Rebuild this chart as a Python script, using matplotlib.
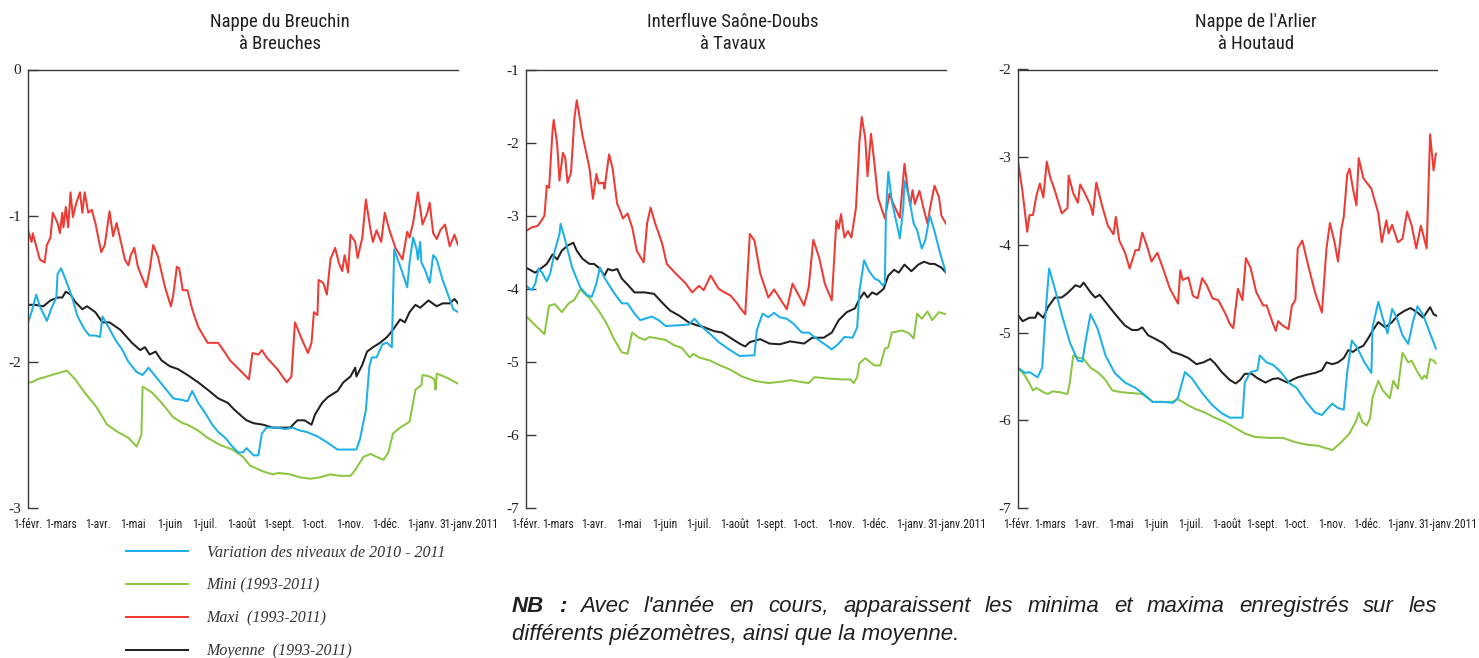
import matplotlib
matplotlib.use('Agg')
import matplotlib.pyplot as plt
from matplotlib import font_manager as fm
from matplotlib.font_manager import FontProperties

plt.rcParams['axes.unicode_minus'] = False

# x axis: day number from 1 Feb 2010
month_labels = ['1-févr.', '1-mars', '1-avr.', '1-mai', '1-juin', '1-juil.', '1-août',
                '1-sept.', '1-oct.', '1-nov.', '1-déc.', '1-janv.']
month_days = [0, 28, 59, 89, 120, 150, 181, 212, 242, 273, 303, 334]
end_label = '31-janv.2011'
end_day = 364

series_labels = ['Variation des niveaux de 2010 - 2011', 'Mini (1993-2011)',
                 'Maxi  (1993-2011)', 'Moyenne  (1993-2011)']
colors = {'var': '#1BB0E8', 'mini': '#8CC540', 'maxi': '#EE3A33', 'moy': '#231F20'}

# --- Nappe du Breuchin a Breuches ---
br_maxi_d = [0, 3, 4, 10, 14, 16, 19, 21, 25, 27, 29, 30, 32, 34, 36, 38, 41, 44, 46, 48,
             51, 54, 57, 62, 65, 69, 72, 75, 82, 85, 87, 90, 93, 100, 103, 106, 110, 116, 121, 123,
             126, 128, 131, 135, 139, 144, 152, 161, 167, 171, 181, 187, 190, 195, 198, 202, 211, 219, 223, 226,
             232, 237, 240, 242, 245, 246, 250, 253, 256, 260, 263, 266, 268, 271, 273, 277, 279, 283, 286, 290,
             292, 295, 299, 302, 306, 311, 317, 321, 323, 326, 330, 334, 338, 340, 343, 346, 349, 353, 357, 361, 364]
br_maxi_v = [-1.10, -1.18, -1.12, -1.30, -1.32, -1.20, -1.15, -0.98, -1.05, -1.12,
             -0.98, -1.08, -0.94, -1.08, -0.84, -1.01, -0.91, -0.84, -0.98, -0.84,
             -0.98, -0.96, -1.05, -1.25, -1.20, -0.97, -1.14, -1.05, -1.30, -1.34,
             -1.27, -1.22, -1.35, -1.49, -1.37, -1.20, -1.28, -1.49, -1.62, -1.54,
             -1.35, -1.36, -1.51, -1.51, -1.64, -1.76, -1.87, -1.87, -1.94, -1.99,
             -2.07, -2.12, -1.94, -1.95, -1.92, -1.97, -2.05, -2.14, -2.10, -1.73,
             -1.85, -1.94, -1.87, -1.66, -1.68, -1.44, -1.46, -1.54, -1.30, -1.22,
             -1.32, -1.38, -1.27, -1.39, -1.13, -1.18, -1.29, -1.15, -0.89, -1.10,
             -1.18, -1.10, -1.18, -0.98, -1.10, -1.22, -1.30, -1.11, -1.15, -1.05,
             -0.84, -1.06, -0.98, -0.91, -1.12, -1.16, -1.10, -1.06, -1.21, -1.13, -1.20]
br_var_d = [0, 3, 7, 10, 16, 20, 24, 25, 28, 31, 37, 42, 48, 52, 57, 61, 63, 68, 74, 80,
            85, 92, 97, 102, 108, 116, 123, 130, 135, 139, 144, 150, 156, 161, 167, 173, 178, 182, 185, 191,
            195, 198, 202, 211, 218, 224, 230, 236, 245, 253, 262, 278, 281, 286, 289, 291, 295, 300, 304, 308,
            310, 313, 317, 321, 323, 326, 329, 330, 332, 333, 336, 340, 343, 346, 351, 356, 360, 364]
br_var_v = [-1.73, -1.66, -1.54, -1.62, -1.72, -1.63, -1.56, -1.40, -1.36, -1.42,
            -1.55, -1.69, -1.78, -1.82, -1.82, -1.83, -1.69, -1.76, -1.85, -1.92,
            -2.00, -2.07, -2.09, -2.04, -2.10, -2.18, -2.25, -2.26, -2.27, -2.20,
            -2.28, -2.35, -2.43, -2.48, -2.52, -2.58, -2.62, -2.62, -2.59, -2.64,
            -2.64, -2.49, -2.45, -2.45, -2.46, -2.45, -2.47, -2.48, -2.51, -2.55,
            -2.60, -2.60, -2.53, -2.33, -2.03, -1.97, -1.97, -1.88, -1.87, -1.90,
            -1.23, -1.30, -1.39, -1.49, -1.32, -1.15, -1.23, -1.30, -1.18, -1.32,
            -1.37, -1.46, -1.27, -1.30, -1.44, -1.55, -1.64, -1.66]
br_moy_d = [0, 6, 13, 19, 25, 29, 32, 36, 40, 46, 50, 57, 63, 69, 78, 88, 95, 99, 103, 108,
            113, 120, 127, 135, 144, 152, 161, 169, 175, 182, 185, 191, 199, 207, 216, 222, 228, 234, 240, 243,
            249, 254, 262, 267, 273, 277, 278, 283, 287, 292, 298, 304, 309, 315, 319, 323, 328, 332, 339, 346,
            351, 357, 361, 364]
br_moy_v = [-1.61, -1.61, -1.62, -1.58, -1.56, -1.56, -1.52, -1.54, -1.59, -1.64,
            -1.62, -1.66, -1.73, -1.73, -1.78, -1.87, -1.92, -1.90, -1.95, -1.93,
            -1.99, -2.03, -2.05, -2.09, -2.14, -2.19, -2.25, -2.28, -2.33, -2.38,
            -2.40, -2.42, -2.43, -2.45, -2.45, -2.45, -2.40, -2.40, -2.43, -2.36,
            -2.28, -2.24, -2.20, -2.14, -2.10, -2.04, -2.10, -2.02, -1.93, -1.90,
            -1.87, -1.83, -1.78, -1.71, -1.73, -1.66, -1.61, -1.63, -1.58, -1.62,
            -1.60, -1.60, -1.57, -1.60]
br_mini_d = [0, 3, 8, 20, 33, 40, 48, 58, 67, 76, 85, 92, 96, 97, 105, 113, 123, 131, 135, 144,
             152, 163, 173, 182, 188, 199, 207, 212, 222, 230, 239, 247, 256, 264, 273, 277, 284, 290, 295, 301,
             305, 309, 315, 323, 328, 333, 334, 340, 344, 345, 346, 355, 364]
br_mini_v = [-2.14, -2.14, -2.12, -2.09, -2.06, -2.12, -2.21, -2.31, -2.43, -2.48,
             -2.52, -2.58, -2.50, -2.17, -2.21, -2.28, -2.38, -2.42, -2.43, -2.47,
             -2.52, -2.57, -2.60, -2.65, -2.71, -2.75, -2.77, -2.76, -2.77, -2.79,
             -2.80, -2.79, -2.77, -2.78, -2.78, -2.74, -2.65, -2.63, -2.65, -2.67,
             -2.62, -2.49, -2.45, -2.41, -2.19, -2.16, -2.09, -2.10, -2.12, -2.19,
             -2.08, -2.11, -2.15]

# --- Interfluve Saone-Doubs a Tavaux ---
tv_maxi_d = [1, 5, 10, 12, 16, 18, 20, 23, 24, 27, 29, 32, 34, 36, 39, 42, 44, 46, 49, 51,
             55, 58, 61, 63, 67, 68, 72, 75, 79, 81, 84, 88, 92, 96, 102, 105, 108, 112, 118, 122,
             129, 138, 144, 150, 154, 160, 167, 172, 177, 183, 185, 190, 194, 198, 203, 210, 215, 220, 226, 231,
             235, 241, 245, 249, 254, 259, 265, 269, 271, 273, 276, 279, 282, 286, 289, 291, 294, 296, 299, 302,
             305, 311, 315, 319, 324, 328, 331, 333, 335, 337, 341, 345, 348, 350, 354, 358, 360, 364]
tv_maxi_v = [-3.20, -3.16, -3.14, -3.10, -3.00, -2.59, -2.62, -1.84, -1.69, -2.02,
             -2.52, -2.14, -2.21, -2.55, -2.41, -1.66, -1.42, -1.61, -1.91, -2.05,
             -2.35, -2.77, -2.43, -2.56, -2.55, -2.63, -2.16, -2.35, -2.84, -2.91,
             -3.04, -2.97, -3.16, -3.48, -3.64, -3.10, -2.89, -3.11, -3.38, -3.66,
             -3.78, -3.92, -4.05, -3.96, -4.02, -3.82, -4.00, -4.05, -4.09, -4.20,
             -4.25, -4.35, -3.25, -3.34, -3.79, -4.12, -4.01, -4.13, -4.28, -3.93,
             -4.05, -4.23, -3.98, -3.33, -3.57, -3.93, -4.16, -3.07, -3.18, -2.98,
             -3.30, -3.21, -3.30, -2.89, -1.98, -1.65, -1.94, -2.46, -1.88, -2.29,
             -2.75, -3.04, -2.70, -2.86, -3.03, -2.29, -2.66, -2.86, -2.65, -2.84,
             -2.66, -2.93, -3.11, -2.91, -2.59, -2.75, -3.00, -3.11]
tv_var_d = [1, 5, 8, 11, 14, 18, 21, 25, 29, 30, 34, 40, 47, 53, 57, 61, 64, 68, 76, 83,
            88, 94, 99, 103, 109, 115, 121, 132, 141, 146, 151, 159, 167, 176, 183, 185, 198, 200, 205, 210,
            215, 220, 226, 232, 239, 245, 250, 258, 265, 271, 276, 283, 287, 289, 293, 297, 302, 306, 309, 311,
            312, 314, 317, 322, 324, 327, 328, 332, 336, 339, 343, 346, 350, 354, 359, 364]
tv_var_v = [-3.97, -4.02, -3.93, -3.72, -3.78, -3.90, -3.79, -3.48, -3.25, -3.11,
            -3.34, -3.71, -3.98, -4.09, -4.11, -3.93, -3.71, -3.85, -4.05, -4.20,
            -4.20, -4.34, -4.43, -4.41, -4.38, -4.43, -4.51, -4.50, -4.49, -4.41,
            -4.50, -4.61, -4.73, -4.83, -4.90, -4.92, -4.91, -4.57, -4.34, -4.39,
            -4.33, -4.39, -4.41, -4.48, -4.60, -4.60, -4.66, -4.75, -4.83, -4.75,
            -4.66, -4.67, -4.53, -4.03, -3.61, -3.75, -3.86, -3.89, -3.95, -3.93,
            -2.93, -2.40, -2.80, -3.16, -3.31, -2.89, -2.52, -2.75, -3.11, -3.20,
            -3.45, -3.34, -3.00, -3.21, -3.52, -3.78]
tv_moy_d = [1, 8, 14, 18, 23, 27, 31, 36, 41, 44, 49, 55, 59, 63, 68, 71, 75, 79, 83, 89,
            94, 103, 111, 118, 125, 133, 141, 148, 155, 163, 170, 177, 183, 185, 190, 194, 203, 211, 220, 229,
            241, 248, 258, 265, 271, 278, 285, 289, 293, 296, 300, 304, 310, 314, 319, 323, 328, 334, 340, 345,
            350, 354, 360, 364]
tv_moy_v = [-3.72, -3.78, -3.71, -3.66, -3.53, -3.60, -3.48, -3.41, -3.37, -3.48,
            -3.59, -3.66, -3.66, -3.71, -3.82, -3.73, -3.75, -3.73, -3.86, -3.96,
            -4.05, -4.05, -4.07, -4.19, -4.30, -4.37, -4.46, -4.50, -4.53, -4.58,
            -4.60, -4.67, -4.73, -4.75, -4.79, -4.73, -4.69, -4.75, -4.76, -4.72,
            -4.75, -4.67, -4.67, -4.60, -4.43, -4.32, -4.27, -4.14, -4.05, -4.12,
            -4.05, -4.08, -4.00, -3.82, -3.74, -3.78, -3.67, -3.76, -3.67, -3.63,
            -3.66, -3.66, -3.71, -3.78]
tv_mini_d = [1, 8, 16, 20, 25, 31, 37, 42, 47, 55, 63, 70, 76, 83, 88, 92, 98, 103, 107, 114,
             121, 128, 135, 142, 145, 150, 159, 167, 176, 183, 187, 198, 210, 222, 229, 236, 245, 250, 263, 274,
             281, 284, 287, 289, 294, 302, 307, 311, 314, 317, 326, 332, 336, 339, 343, 348, 352, 358, 364]
tv_mini_v = [-4.39, -4.50, -4.62, -4.23, -4.21, -4.32, -4.20, -4.15, -4.01, -4.13,
             -4.30, -4.48, -4.68, -4.87, -4.89, -4.60, -4.67, -4.70, -4.66, -4.68,
             -4.70, -4.77, -4.81, -4.94, -4.89, -4.94, -4.98, -5.04, -5.10, -5.16,
             -5.20, -5.26, -5.29, -5.27, -5.25, -5.27, -5.29, -5.21, -5.23, -5.24,
             -5.24, -5.29, -5.21, -5.02, -4.95, -5.05, -5.05, -4.82, -4.80, -4.60,
             -4.57, -4.61, -4.68, -4.34, -4.41, -4.31, -4.43, -4.32, -4.35]

# --- Nappe de l'Arlier a Houtaud ---
ht_maxi_d = [0, 4, 8, 10, 13, 16, 19, 22, 25, 28, 32, 38, 43, 44, 48, 52, 54, 58, 63, 65,
             68, 73, 78, 83, 85, 88, 93, 97, 102, 105, 108, 112, 116, 121, 126, 132, 139, 141, 143, 148,
             152, 156, 160, 164, 169, 174, 180, 184, 187, 191, 195, 198, 202, 207, 213, 216, 221, 224, 226, 230,
             235, 238, 241, 243, 247, 252, 258, 264, 268, 271, 275, 278, 281, 283, 286, 288, 291, 294, 296, 300,
             307, 313, 316, 320, 322, 325, 330, 334, 338, 342, 346, 350, 355, 358, 361, 363]
ht_maxi_v = [-3.04, -3.40, -3.85, -3.66, -3.66, -3.44, -3.30, -3.46, -3.05, -3.23,
             -3.38, -3.64, -3.58, -3.21, -3.41, -3.52, -3.31, -3.41, -3.55, -3.66,
             -3.29, -3.55, -3.78, -3.88, -3.68, -3.95, -4.09, -4.27, -4.06, -4.06,
             -3.86, -4.01, -4.19, -4.09, -4.27, -4.50, -4.67, -4.29, -4.40, -4.37,
             -4.58, -4.61, -4.38, -4.46, -4.61, -4.63, -4.78, -4.90, -4.95, -4.50,
             -4.63, -4.15, -4.26, -4.54, -4.69, -4.69, -4.88, -4.98, -4.87, -4.92,
             -4.96, -4.69, -4.63, -4.04, -3.95, -4.23, -4.54, -4.77, -4.04, -3.75,
             -3.97, -4.19, -3.81, -3.68, -3.20, -3.13, -3.36, -3.55, -3.01, -3.24,
             -3.36, -3.64, -3.97, -3.72, -3.87, -3.77, -3.97, -3.93, -3.62, -3.78,
             -4.04, -3.78, -4.04, -2.74, -3.15, -2.96]
ht_var_d = [0, 6, 10, 17, 21, 24, 27, 32, 39, 45, 52, 56, 58, 63, 69, 76, 84, 93, 102, 109,
            117, 125, 135, 139, 145, 151, 160, 169, 177, 184, 195, 197, 202, 208, 210, 216, 222, 229, 236, 242,
            251, 258, 264, 268, 273, 278, 283, 286, 290, 295, 301, 307, 308, 313, 317, 321, 325, 329, 334, 339,
            343, 347, 352, 358, 363]
ht_var_v = [-5.40, -5.46, -5.45, -5.51, -5.40, -4.77, -4.27, -4.50, -4.84, -5.11,
            -5.32, -5.33, -5.15, -4.79, -4.95, -5.26, -5.46, -5.57, -5.63, -5.70,
            -5.79, -5.79, -5.80, -5.74, -5.45, -5.52, -5.69, -5.83, -5.92, -5.97,
            -5.97, -5.57, -5.45, -5.43, -5.26, -5.34, -5.37, -5.46, -5.58, -5.63,
            -5.80, -5.91, -5.94, -5.88, -5.81, -5.86, -5.88, -5.45, -5.09, -5.18,
            -5.34, -5.46, -4.94, -4.65, -4.84, -5.01, -4.73, -4.83, -5.03, -5.13,
            -4.88, -4.70, -4.80, -5.01, -5.18]
ht_moy_d = [0, 4, 10, 15, 17, 22, 26, 32, 38, 43, 50, 54, 57, 63, 67, 71, 76, 82, 87, 93,
            99, 104, 108, 113, 119, 126, 134, 139, 143, 148, 155, 161, 167, 171, 177, 184, 189, 193, 197, 203,
            208, 215, 221, 226, 234, 238, 243, 251, 258, 264, 268, 273, 278, 283, 287, 291, 295, 300, 304, 308,
            313, 319, 325, 330, 336, 341, 347, 352, 355, 358, 361, 364]
ht_moy_v = [-4.80, -4.87, -4.83, -4.83, -4.77, -4.83, -4.71, -4.60, -4.60, -4.55,
            -4.46, -4.48, -4.43, -4.54, -4.60, -4.57, -4.65, -4.75, -4.83, -4.92,
            -4.97, -4.97, -4.94, -5.03, -5.07, -5.12, -5.22, -5.24, -5.26, -5.29,
            -5.36, -5.34, -5.30, -5.35, -5.45, -5.54, -5.58, -5.54, -5.47, -5.47,
            -5.52, -5.57, -5.53, -5.52, -5.57, -5.54, -5.51, -5.48, -5.46, -5.43,
            -5.34, -5.36, -5.34, -5.29, -5.20, -5.22, -5.18, -5.15, -5.07, -4.98,
            -4.88, -4.94, -4.88, -4.80, -4.75, -4.72, -4.77, -4.83, -4.77, -4.71,
            -4.79, -4.81]
ht_mini_d = [0, 6, 10, 13, 16, 22, 26, 30, 36, 43, 45, 48, 51, 57, 63, 70, 76, 82, 90, 99,
             108, 117, 125, 134, 139, 148, 154, 162, 171, 180, 189, 197, 206, 217, 230, 241, 252, 261, 268, 273,
             280, 288, 294, 296, 299, 303, 306, 308, 313, 317, 323, 326, 330, 334, 339, 342, 347, 351, 353, 355,
             358, 361, 363]
ht_mini_v = [-5.40, -5.49, -5.58, -5.66, -5.63, -5.68, -5.70, -5.67, -5.68, -5.70,
             -5.57, -5.26, -5.28, -5.30, -5.40, -5.46, -5.54, -5.66, -5.68, -5.69,
             -5.70, -5.79, -5.79, -5.79, -5.76, -5.83, -5.87, -5.91, -5.97, -6.02,
             -6.09, -6.15, -6.19, -6.20, -6.20, -6.25, -6.28, -6.29, -6.32, -6.34,
             -6.26, -6.15, -6.00, -5.91, -6.02, -6.06, -5.97, -5.74, -5.55, -5.66,
             -5.75, -5.55, -5.64, -5.23, -5.34, -5.32, -5.45, -5.53, -5.49, -5.52,
             -5.30, -5.32, -5.35]

panels = [
    dict(title="Nappe du Breuchin\nà Breuches", tx=280, yticks=[0, -1, -2, -3],
         rect=[28, 430], series=[(br_mini_d, br_mini_v, 'mini'), (br_maxi_d, br_maxi_v, 'maxi'),
                                 (br_moy_d, br_moy_v, 'moy'), (br_var_d, br_var_v, 'var')]),
    dict(title="Interfluve Saône-Doubs\nà Tavaux", tx=733, yticks=[-1, -2, -3, -4, -5, -6, -7],
         rect=[526, 420], series=[(tv_mini_d, tv_mini_v, 'mini'), (tv_maxi_d, tv_maxi_v, 'maxi'),
                                  (tv_moy_d, tv_moy_v, 'moy'), (tv_var_d, tv_var_v, 'var')]),
    dict(title="Nappe de l'Arlier\nà Houtaud", tx=1256, yticks=[-2, -3, -4, -5, -6, -7],
         rect=[1018, 419], series=[(ht_mini_d, ht_mini_v, 'mini'), (ht_maxi_d, ht_maxi_v, 'maxi'),
                                   (ht_moy_d, ht_moy_v, 'moy'), (ht_var_d, ht_var_v, 'var')]),
]


# look for a condensed sans face; otherwise use Liberation Sans at smaller sizes
def find_narrow():
    pref = ['Liberation Sans Narrow', 'Roboto Condensed', 'Open Sans Condensed',
            'DejaVu Sans Condensed', 'Noto Sans Condensed']
    found = []
    for f in fm.fontManager.ttflist:
        base = f.fname.rsplit('/', 1)[-1]
        if any(k in base for k in ('Bold', 'Italic', 'Oblique', 'Light', 'Thin', 'Medium', 'Black', 'Semi')):
            continue
        if 'Narrow' in f.name or 'Condensed' in f.name or 'Condensed' in base or 'Narrow' in base:
            found.append(f)
    for p in pref:
        for f in found:
            if f.name == p or p.replace(' ', '') in f.fname.replace(' ', ''):
                return f.fname
    return found[0].fname if found else None


narrow_path = find_narrow()


def nfont(size_narrow, size_wide):
    if narrow_path:
        return FontProperties(fname=narrow_path, size=size_narrow)
    return FontProperties(family='Liberation Sans', size=size_wide)


W, H = 1479, 658
fig = plt.figure(figsize=(W / 100, H / 100), dpi=100)
spine_col = '#3a3a3a'
ink = '#231F20'

handles = {}
for p in panels:
    x0, w = p['rect']
    ax = fig.add_axes([x0 / W, 1 - 508 / H, w / W, (508 - 69.5) / H])
    for d, v, key in p['series']:
        ln, = ax.plot(d, v, color=colors[key], lw=1.45, solid_joinstyle='round')
        handles[key] = ln
    ax.set_xlim(0, end_day)
    ax.set_ylim(min(p['yticks']), max(p['yticks']))
    ax.spines['right'].set_visible(False)
    ax.spines['bottom'].set_visible(False)
    for s in ('left', 'top'):
        ax.spines[s].set_color(spine_col)
        ax.spines[s].set_linewidth(1.0)
    ax.set_yticks(p['yticks'])
    ax.set_yticklabels([str(t) for t in p['yticks']], fontfamily='Liberation Serif', fontsize=11,
                       color=ink)
    ax.tick_params(axis='y', direction='in', length=7, width=1.0, color=spine_col, pad=5)
    ax.set_xticks(month_days)
    ax.set_xticklabels(month_labels, fontproperties=nfont(8.4, 7.0), color=ink)
    ax.tick_params(axis='x', length=0, pad=7)
    ax.annotate(end_label, xy=(end_day, 0), xycoords=('data', 'axes fraction'),
                xytext=(8.0, -7.0), textcoords='offset points', ha='center', va='top',
                fontproperties=nfont(8.4, 7.0), color=ink)
    fig.text(p['tx'] / W, 1 - 33 / H, p['title'], ha='center', va='center',
             fontproperties=nfont(13.5, 11.5), linespacing=1.35, color=ink)

leg_handles = [handles['var'], handles['mini'], handles['maxi'], handles['moy']]
fig.legend(leg_handles, series_labels, loc='upper left', bbox_to_anchor=(126 / W, 1 - 545 / H),
           frameon=False, borderpad=0, borderaxespad=0, handlelength=3.9, handletextpad=1.15,
           labelspacing=1.05, prop=dict(family='Liberation Serif', style='italic', size=11.5))
for t in fig.legends[0].get_texts():
    t.set_color('#333333')

nb_font = dict(family='Liberation Sans', style='italic', size=16)


def justify(words, bolds, x0, x1, yb):
    r = fig.canvas.get_renderer()
    texts = [fig.text(0, yb, w, fontproperties=FontProperties(weight='bold' if b else 'normal', **nb_font),
                      va='baseline', color=ink)
             for w, b in zip(words, bolds)]
    widths = [t.get_window_extent(r).width for t in texts]
    gap = ((x1 - x0) - sum(widths)) / (len(words) - 1)
    x = x0
    for t, wd in zip(texts, widths):
        t.set_x(x / W)
        x += wd + gap


nb_line1 = "NB : Avec l'année en cours, apparaissent les minima et maxima enregistrés sur les".split()
justify(nb_line1, [True, True] + [False] * (len(nb_line1) - 2), 512, 1437, 1 - 612 / H)
fig.text(512 / W, 1 - 640 / H, "différents piézomètres, ainsi que la moyenne.",
         fontproperties=FontProperties(**nb_font), va='baseline', color=ink)

fig.savefig('out.png', dpi=100)
